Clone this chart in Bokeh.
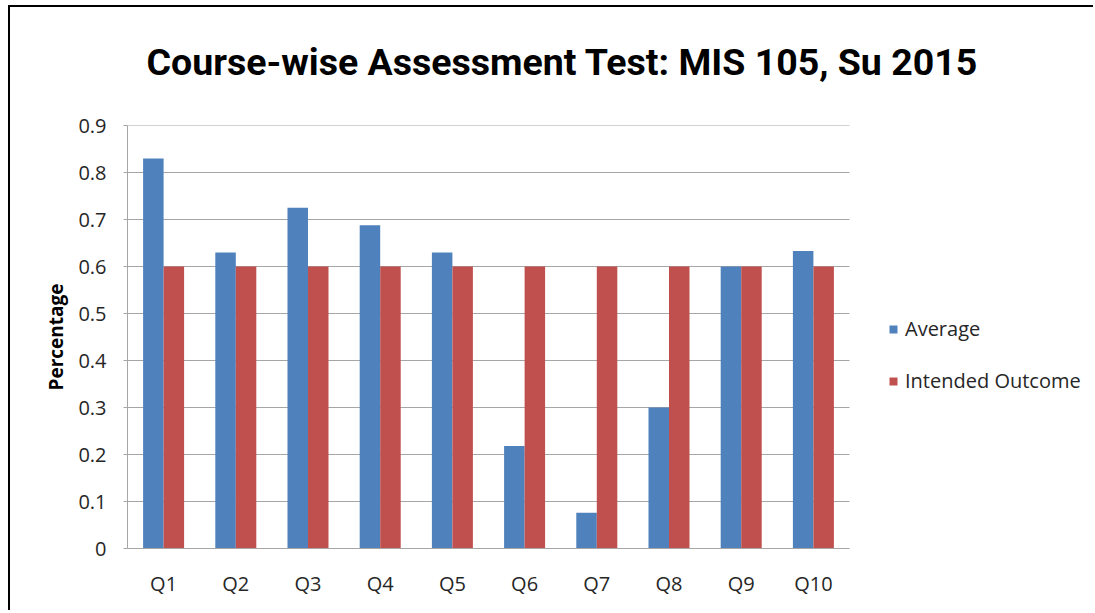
import numpy as np
from bokeh.plotting import figure
from bokeh.models import Range1d, Legend, LegendItem, Title, ColumnDataSource, FixedTicker
from bokeh.embed import file_html
from bokeh.resources import INLINE

questions = ["Q1", "Q2", "Q3", "Q4", "Q5", "Q6", "Q7", "Q8", "Q9", "Q10"]
average = [0.83, 0.63, 0.725, 0.688, 0.63, 0.218, 0.076, 0.30, 0.60, 0.633]
intended = [0.6, 0.6, 0.6, 0.6, 0.6, 0.6, 0.6, 0.6, 0.6, 0.6]
y_ticks = [0, 0.1, 0.2, 0.3, 0.4, 0.5, 0.6, 0.7, 0.8, 0.9]
y_labels = ["0", "0.1", "0.2", "0.3", "0.4", "0.5", "0.6", "0.7", "0.8", "0.9"]

BLUE = "#4F81BD"
RED = "#C0504D"
GRID = "#A6A6A6"
TITLE_FONT = "Roboto"
FONT = "Open Sans"

n = len(questions)
centers = np.arange(n) + 0.5
BAR_W = 0.284

src = ColumnDataSource(dict(xa=centers - BAR_W / 2, xt=centers + BAR_W / 2,
                            avg=average, tgt=intended))

W, H = 1085, 605
LEFT, RIGHT, TOP, BOTTOM = 117, 10, 118, 64
plot_px = 722.0  # pixel width of the 10-category area
frame_w = W - LEFT - RIGHT
x_end = n * frame_w / plot_px

p = figure(x_range=Range1d(0, x_end), y_range=Range1d(0, 0.9),
           width=W, height=H, output_backend="svg", toolbar_location=None,
           min_border_left=LEFT, min_border_right=RIGHT, min_border_top=TOP, min_border_bottom=BOTTOM)
p.styles = {"border-top": "2px solid black", "border-left": "2px solid black",
            "margin-left": "8px", "margin-top": "5px"}

# spacer panel between the frame and the title
spacer = Title(text=" ", text_font_size="2px", standoff=12)
p.add_layout(spacer, "above")

t = Title(text="Course-wise Assessment Test: MIS 105, Su 2015", align="left",
          text_font=TITLE_FONT, text_font_size="37.5px", text_font_style="bold",
          text_color="black", offset=19, standoff=52)
p.add_layout(t, "above")

# horizontal gridlines only over the category area
p.segment(x0=[0] * len(y_ticks), x1=[n] * len(y_ticks), y0=y_ticks, y1=y_ticks,
          line_color=GRID, line_width=1.2, level="underlay")

r1 = p.vbar(x="xa", top="avg", width=BAR_W, source=src, fill_color=BLUE, line_color=None)
r2 = p.vbar(x="xt", top="tgt", width=BAR_W, source=src, fill_color=RED, line_color=None)

p.outline_line_color = None
p.xgrid.grid_line_color = None
p.ygrid.grid_line_color = None

p.yaxis.ticker = FixedTicker(ticks=y_ticks)
p.yaxis.major_label_overrides = {t_: l for t_, l in zip(y_ticks, y_labels)}
p.yaxis.axis_line_color = GRID
p.yaxis.major_tick_line_color = GRID
p.yaxis.major_tick_out = 4
p.yaxis.major_tick_in = 0
p.yaxis.minor_tick_line_color = None
p.yaxis.major_label_text_font = FONT
p.yaxis.major_label_text_font_size = "20px"
p.yaxis.major_label_text_color = "#262626"
p.yaxis.major_label_standoff = 17
p.yaxis.axis_label = "Percentage"
p.yaxis.axis_label_text_font = FONT
p.yaxis.axis_label_text_font_size = "19px"
p.yaxis.axis_label_text_font_style = "bold"
p.yaxis.axis_label_text_color = "black"
p.yaxis.axis_label_standoff = 6

p.xaxis.ticker = FixedTicker(ticks=list(centers))
p.xaxis.major_label_overrides = {float(c): q for c, q in zip(centers, questions)}
p.xaxis.bounds = (0, n)
p.xaxis.axis_line_color = GRID
p.xaxis.major_tick_line_color = None
p.xaxis.minor_tick_line_color = None
p.xaxis.major_label_text_font = FONT
p.xaxis.major_label_text_font_size = "20px"
p.xaxis.major_label_text_color = "#262626"
p.xaxis.major_label_standoff = 15

legend = Legend(items=[LegendItem(label="Average", renderers=[r1]),
                       LegendItem(label="Intended Outcome", renderers=[r2])],
                location=(761, 154), orientation="vertical",
                glyph_width=10, glyph_height=10, spacing=25, padding=0, margin=0,
                label_text_font=FONT, label_text_font_size="20px",
                label_text_color="#262626", label_standoff=7, label_height=20,
                border_line_color=None, background_fill_alpha=0)
p.add_layout(legend, "center")

open("out.html", "w").write(file_html(p, INLINE))
